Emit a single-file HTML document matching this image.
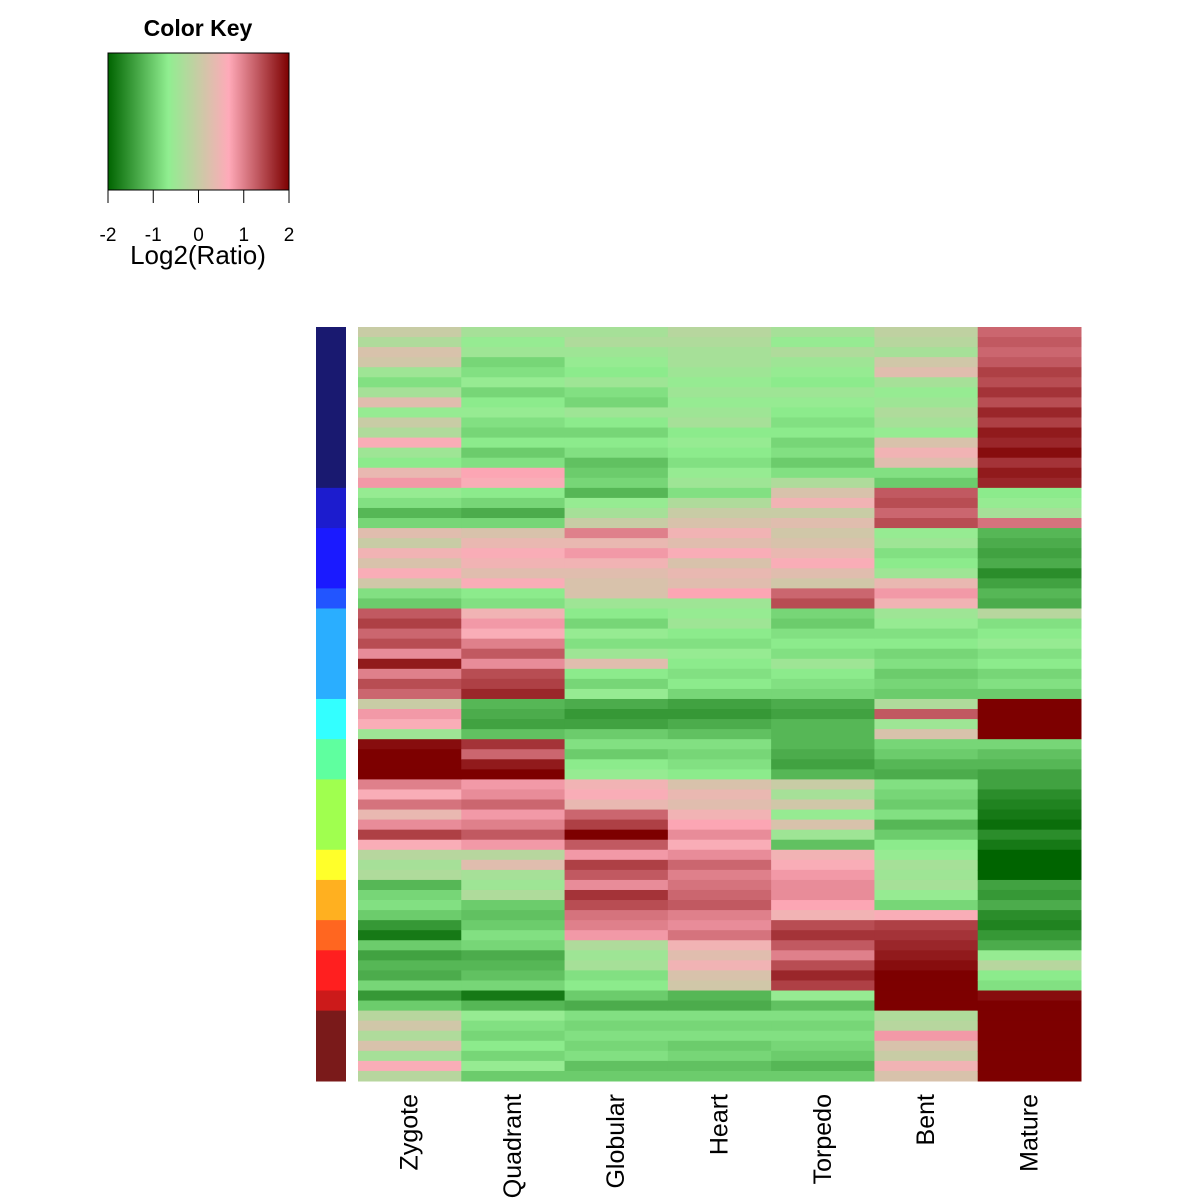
<!DOCTYPE html>
<html><head><meta charset="utf-8"><style>
body{margin:0;background:#fff;}
svg{display:block;font-family:"Liberation Sans",sans-serif;}
</style></head><body>
<svg id="chart" width="1200" height="1200" viewBox="0 0 1200 1200" xmlns="http://www.w3.org/2000/svg">
<defs>
<linearGradient id="keyGrad" x1="0" x2="1" y1="0" y2="0">
<stop offset="0" stop-color="rgb(0,100,0)"/>
<stop offset="0.333" stop-color="rgb(144,238,144)"/>
<stop offset="0.667" stop-color="rgb(255,170,185)"/>
<stop offset="1" stop-color="rgb(125,0,0)"/>
</linearGradient>
</defs>
<text x="198" y="36" font-size="23" font-weight="bold" text-anchor="middle">Color Key</text>
<rect x="108" y="53" width="181" height="137" fill="url(#keyGrad)" stroke="#000" stroke-width="1"/>
<g id="keyAxis"></g>
<text x="198" y="264" font-size="26" text-anchor="middle">Log2(Ratio)</text>
<g id="side"></g>
<g id="cells"></g>
<g id="xlabels"></g>
</svg>
<script>
const columns = ["Zygote","Quadrant","Globular","Heart","Torpedo","Bent","Mature"];
const keyTicks = [-2,-1,0,1,2];
const clusterSizes = [16,4,6,2,9,4,4,7,3,4,3,4,2,7];
const clusterColors = ["#191970","#1c1cce","#1a1aff","#2255ff","#2aaeff","#33ffff","#5fff9f","#a0ff4f","#ffff2a","#ffb020","#ff6620","#ff1f1f","#cc1a1a","#7a1a1a"];
const zygote = [0.0,-0.3,0.2,0.1,-0.5,-0.8,-0.4,0.3,-0.6,0,-0.3,0.6,-0.5,-0.7,0.4,0.8,
 -0.6,-0.8,-1.2,-0.9, 0.3,0,0.5,0.2,0.6,0.1, -0.8,-1.0,
 1.3,1.5,1.2,1.4,0.9,1.8,1.0,1.4,1.2, 0.0,0.8,0.6,-0.5, 1.9,2,2,2,
 1.0,0.6,1.1,0.4,0.9,1.5,0.6, -0.2,-0.4,-0.3, -1.2,-0.9,-0.8,-1.0, -1.5,-1.8,-1.0,
 -1.4,-1.2,-1.3,-0.9, -1.5,-1.0, -0.2,0.1,-0.3,0.2,-0.4,0.6,-0.2];
const quadrant = [-0.4,-0.6,-0.5,-0.9,-0.8,-0.6,-0.9,-0.7,-0.6,-0.8,-0.9,-0.7,-1.0,-0.8,0.7,0.6,
 -0.7,-0.9,-1.3,-0.9, 0.2,0.4,0.6,0.5,0.3,0.6, -0.7,-0.8,
 0.5,0.8,0.6,1.0,1.3,0.9,1.4,1.5,1.7, -1.2,-1.3,-1.4,-1.1, 1.6,1.2,1.8,2.0,
 0.8,0.9,1.2,0.8,1.0,1.3,0.8, -0.2,0.3,-0.4, -0.5,-0.3,-1.0,-1.1, -1.0,-0.8,-0.9,
 -1.3,-1.2,-1.1,-0.9, -1.8,-1.2, -0.6,-0.8,-0.9,-0.7,-0.9,-0.6,-1.0];
const globular = [-0.4,-0.3,-0.5,-0.6,-0.7,-0.5,-0.8,-0.9,-0.5,-0.7,-0.9,-0.7,-0.8,-1.1,-1.0,-0.9,
 -1.2,-0.6,-0.4,0.0, 1.0,0.4,0.8,0.5,0.3,0.2, 0.2,-0.5,
 -0.7,-0.9,-0.6,-0.8,-0.5,0.3,-0.7,-0.9,-0.6, -1.3,-1.5,-1.4,-1.0, -0.8,-1.0,-0.7,-0.6,
 0.5,0.6,0.4,1.2,1.5,2.0,1.3, 0.8,1.5,1.3, 0.9,1.6,1.4,1.1, 1.0,0.8,-0.3,
 -0.5,-0.4,-0.8,-0.7, -1.0,-1.3, -0.8,-0.9,-0.8,-0.9,-0.8,-1.1,-1.0];
const heart = [-0.2,-0.3,-0.4,-0.4,-0.5,-0.6,-0.5,-0.6,-0.5,-0.4,-0.7,-0.6,-0.7,-0.8,-0.6,-0.5,
 -0.8,-0.3,0.0,0.2, 0.5,0.3,0.6,0.2,0.4,0.3, 0.7,-0.5,
 -0.6,-0.5,-0.7,-0.8,-0.6,-0.7,-0.8,-0.7,-0.9, -1.4,-1.5,-1.3,-1.1, -0.8,-0.9,-0.8,-0.7,
 0.2,0.4,0.3,0.5,0.7,0.9,0.6, 0.9,1.2,1.0, 1.1,1.2,1.3,1.0, 0.9,1.1,0.5,
 0.3,0.5,0.2,0.1, -1.2,-1.3, -0.8,-0.9,-0.8,-1.0,-0.9,-1.1,-1.0];
const torpedo = [-0.4,-0.6,-0.3,-0.5,-0.6,-0.7,-0.5,-0.6,-0.7,-0.8,-0.7,-0.9,-0.8,-1.0,-0.8,-0.3,
 0.2,0.5,0.0,0.3, 0.1,0.2,0.4,0.6,0.3,0.1, 1.2,1.4,
 -0.9,-1.0,-0.8,-0.7,-0.8,-0.5,-0.7,-0.8,-0.9, -1.3,-1.4,-1.2,-1.2, -1.2,-1.3,-1.4,-1.2,
 0.0,-0.4,0.1,-0.6,0.2,-0.5,-1.1, 0.5,0.6,0.8, 0.9,0.9,0.7,0.5, 1.4,1.6,1.3,
 1.0,1.4,1.7,1.5, -0.6,-1.1, -0.8,-0.9,-0.8,-0.9,-1.0,-1.2,-1.0];
const bent = [-0.1,-0.2,-0.4,0.1,0.3,-0.4,-0.6,-0.5,-0.3,-0.4,-0.6,0.2,0.5,0.3,-0.8,-1.0,
 1.3,1.4,1.2,1.4, -0.6,-0.5,-0.8,-0.7,-0.5,0.4, 0.8,0.5,
 -0.5,-0.6,-0.8,-0.7,-0.9,-0.8,-1.0,-0.9,-1.0, -0.3,1.3,-0.5,0.2, -0.9,-1.0,-1.2,-1.3,
 -0.8,-0.9,-1.0,-0.8,-1.2,-1.0,-0.7, -0.6,-0.4,-0.5, -0.4,-0.6,-0.9,0.6, 1.5,1.6,1.7,
 1.8,1.9,2.0,2.0, 2.0,2.0, -0.3,-0.2,0.8,0.2,0.0,0.5,0.2];
const mature = [1.2,1.3,1.2,1.3,1.5,1.4,1.6,1.4,1.7,1.5,1.8,1.7,1.9,1.6,1.8,1.7,
 -0.7,-0.6,-0.4,1.1, -1.2,-1.3,-1.4,-1.3,-1.6,-1.4, -1.2,-1.3,
 -0.2,-0.8,-0.7,-0.6,-0.8,-0.7,-0.9,-0.8,-1.0, 2,2,2,2, -0.9,-1.1,-1.2,-1.4,
 -1.4,-1.6,-1.7,-1.8,-1.9,-1.6,-1.8, -2.0,-2.0,-2.0, -1.4,-1.5,-1.3,-1.6, -1.7,-1.5,-1.3,
 -0.6,-0.2,-0.7,-0.8, 1.9,2.0, 2,2,2,2,2,2,2];
const series = [zygote,quadrant,globular,heart,torpedo,bent,mature];

const NS="http://www.w3.org/2000/svg";
const X0=358,X1=1081,Y0=327,Y1=1081;
const nRows=zygote.length, nCols=columns.length;
const colW=(X1-X0)/nCols, rowH=(Y1-Y0)/nRows;
const xCol=i=>X0+i*colW;
const yRow=r=>Y0+r*rowH;
const KX0=108,KX1=289;
const xKey=v=>KX0+(v+2)/4*(KX1-KX0);
const stops=[[-2,[0,100,0]],[-0.667,[144,238,144]],[0.667,[255,170,185]],[2,[125,0,0]]];
function color(v){
  v=Math.max(-2,Math.min(2,v));
  for(let i=0;i<stops.length-1;i++){
    const [a,ca]=stops[i],[b,cb]=stops[i+1];
    if(v<=b){const t=(v-a)/(b-a);
      const c=ca.map((x,k)=>Math.round(x+(cb[k]-x)*t));
      return `rgb(${c[0]},${c[1]},${c[2]})`;}
  }
  return "rgb(125,0,0)";
}
const cells=document.getElementById('cells');
series.forEach((vals,ci)=>{
  vals.forEach((v,ri)=>{
    const r=document.createElementNS(NS,'rect');
    r.setAttribute('x',xCol(ci));r.setAttribute('y',yRow(ri));
    r.setAttribute('width',colW+0.5);r.setAttribute('height',rowH+0.5);
    r.setAttribute('fill',color(v));
    
    
    cells.appendChild(r);
  });
});
const side=document.getElementById('side');
let acc=0;
clusterSizes.forEach((n,i)=>{
  const r=document.createElementNS(NS,'rect');
  r.setAttribute('x',316);r.setAttribute('y',yRow(acc));
  r.setAttribute('width',30);r.setAttribute('height',n*rowH+0.5);
  r.setAttribute('fill',clusterColors[i]);
  
  
  side.appendChild(r);
  acc+=n;
});
const xl=document.getElementById('xlabels');
columns.forEach((c,i)=>{
  const t=document.createElementNS(NS,'text');
  const cx=xCol(i)+colW/2+8;
  t.setAttribute('x',cx);t.setAttribute('y',1094);
  t.setAttribute('transform',`rotate(-90 ${cx} 1094)`);
  t.setAttribute('text-anchor','end');t.setAttribute('font-size','25');
  t.textContent=c;
  
  
  xl.appendChild(t);
});
const ka=document.getElementById('keyAxis');
const ax=document.createElementNS(NS,'line');
ax.setAttribute('x1',KX0);ax.setAttribute('x2',KX1);ax.setAttribute('y1',190);ax.setAttribute('y2',190);ax.setAttribute('stroke','#000');


ka.appendChild(ax);
keyTicks.forEach(v=>{
  const l=document.createElementNS(NS,'line');
  l.setAttribute('x1',xKey(v));l.setAttribute('x2',xKey(v));l.setAttribute('y1',190);l.setAttribute('y2',203);l.setAttribute('stroke','#000');
  
  
  ka.appendChild(l);
  const t=document.createElementNS(NS,'text');
  t.setAttribute('x',xKey(v));t.setAttribute('y',241);t.setAttribute('text-anchor','middle');t.setAttribute('font-size','19');
  t.textContent=String(v);
  
  
  ka.appendChild(t);
});
</script>
</body></html>
